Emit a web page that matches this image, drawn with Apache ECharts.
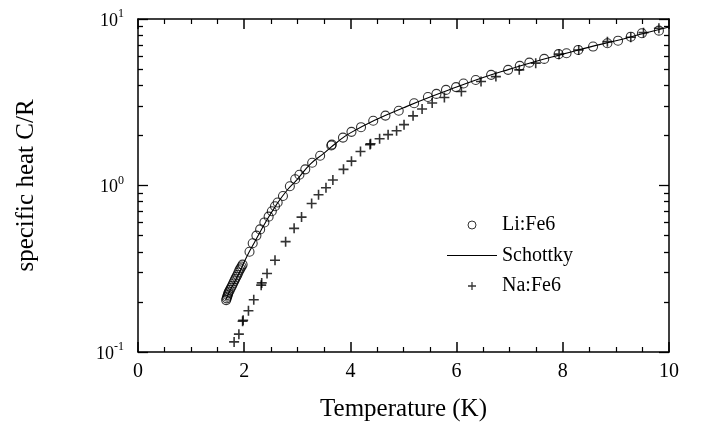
<!DOCTYPE html>
<html>
<head>
<meta charset="utf-8">
<script src="https://cdn.jsdelivr.net/npm/echarts@6/dist/echarts.min.js"></script>
<style>
  html, body { margin: 0; padding: 0; background: #fff; }
  #chart { width: 701px; height: 427px; }
</style>
</head>
<body>
<div id="chart"></div>
<script>
// Li:Fe6 measured points (T in K, C/R)
var liT = [1.66, 1.67, 1.68, 1.69, 1.70, 1.71, 1.73, 1.75, 1.77, 1.79, 1.81, 1.83, 1.85, 1.87, 1.89, 1.91, 1.93, 1.95, 1.97,
           2.10, 2.16, 2.23, 2.30, 2.38, 2.46, 2.52, 2.58, 2.63, 2.73, 2.86, 2.96, 3.04, 3.15, 3.28, 3.43, 3.64, 3.65,
           3.86, 4.02, 4.20, 4.43, 4.66, 4.91, 5.20, 5.46, 5.62, 5.80, 5.99, 6.13, 6.36, 6.65, 6.97, 7.19, 7.37, 7.65,
           7.92, 8.07, 8.29, 8.57, 8.84, 9.04, 9.28, 9.49, 9.81];
var liC = [0.205, 0.21, 0.215, 0.22, 0.225, 0.23, 0.236, 0.243, 0.25, 0.258, 0.266, 0.274, 0.282, 0.29, 0.30, 0.31, 0.318, 0.326, 0.335,
           0.40, 0.45, 0.50, 0.545, 0.60, 0.65, 0.70, 0.75, 0.79, 0.865, 0.99, 1.09, 1.16, 1.25, 1.37, 1.51, 1.74, 1.76,
           1.94, 2.10, 2.24, 2.45, 2.63, 2.81, 3.12, 3.40, 3.55, 3.75, 3.90, 4.10, 4.30, 4.62, 4.95, 5.23, 5.47, 5.76,
           6.15, 6.23, 6.52, 6.83, 7.15, 7.41, 7.83, 8.21, 8.51];

// Schottky curve
var schT = [1.65, 1.75, 1.85, 1.95, 2.05, 2.2, 2.4, 2.6, 2.8, 3.0, 3.25, 3.5, 3.75, 4.0, 4.5, 5.0, 5.5, 6.0, 6.5, 7.0, 7.5, 8.0, 8.5, 9.0, 9.5, 10.0];
var schC = [0.205, 0.24, 0.275, 0.32, 0.375, 0.46, 0.60, 0.76, 0.93, 1.09, 1.35, 1.56, 1.82, 2.07, 2.50, 2.93, 3.40, 3.90, 4.45, 5.0, 5.58, 6.15, 6.78, 7.40, 8.15, 8.95];

// Na:Fe6 measured points
var naT = [1.81, 1.90, 1.97, 1.98, 2.08, 2.18, 2.32, 2.33, 2.43, 2.58, 2.78, 2.94, 3.08, 3.27, 3.40, 3.54, 3.67, 3.87, 4.02, 4.19,
           4.37, 4.38, 4.55, 4.71, 4.87, 5.01, 5.18, 5.35, 5.54, 5.77, 6.09, 6.46, 6.74, 7.18, 7.49, 7.93, 8.30, 8.84, 9.28, 9.52, 9.81];
var naC = [0.115, 0.128, 0.153, 0.155, 0.177, 0.206, 0.252, 0.26, 0.296, 0.356, 0.46, 0.553, 0.646, 0.78, 0.88, 0.97, 1.08, 1.25, 1.40, 1.60,
           1.76, 1.78, 1.91, 2.02, 2.13, 2.32, 2.62, 2.88, 3.13, 3.38, 3.67, 4.21, 4.51, 4.95, 5.43, 6.15, 6.52, 7.31, 7.77, 8.28, 8.80];

var yMajor = [0.1, 1, 10];
var yMinor = [0.2, 0.3, 0.4, 0.5, 0.6, 0.7, 0.8, 0.9, 2, 3, 4, 5, 6, 7, 8, 9];

function pairs(xs, ys) {
  var out = [];
  for (var i = 0; i < xs.length; i++) out.push([xs[i], ys[i]]);
  return out;
}

var serif = "'Liberation Serif', 'Times New Roman', serif";
var black = '#000';
var plus = 'path://M42,0H58V42H100V58H58V100H42V58H0V42H42Z';

function xAx(pos, showLabel) {
  return {
    type: 'value', min: 0, max: 10, interval: 2, position: pos,
    axisLine: { show: true, onZero: false, lineStyle: { color: black, width: 1.5 } },
    axisTick: { show: true, inside: true, length: 10, lineStyle: { color: black, width: 1.5 } },
    minorTick: { show: true, splitNumber: 4, length: 5, lineStyle: { color: black, width: 1.2 } },
    axisLabel: { show: showLabel, color: black, fontSize: 20, fontFamily: serif, margin: 10 },
    splitLine: { show: false }
  };
}

function yAx(pos, ticks, len, showLabel, showLine) {
  return {
    type: 'log', logBase: 10, min: 0.1, max: 10, position: pos,
    axisLine: { show: showLine, onZero: false, lineStyle: { color: black, width: 1.5 } },
    axisTick: { show: true, inside: true, length: len, customValues: ticks, lineStyle: { color: black, width: 1.3 } },
    axisLabel: {
      show: showLabel, customValues: ticks, margin: 14,
      formatter: function (v) {
        var e = Math.round(Math.log10(v));
        return '{b|10}{s|' + e + '}';
      },
      rich: {
        b: { fontSize: 18, fontFamily: serif, color: black, lineHeight: 22, verticalAlign: 'bottom' },
        s: { fontSize: 12, fontFamily: serif, color: black, lineHeight: 12, verticalAlign: 'top' }
      }
    },
    splitLine: { show: false }
  };
}

var xBottom = xAx('bottom', true);
xBottom.name = 'Temperature (K)';
xBottom.nameLocation = 'middle';
xBottom.nameGap = 45;
xBottom.nameTextStyle = { fontSize: 25, fontFamily: serif, color: black };

var yLeft = yAx('left', yMajor, 10, true, true);
yLeft.name = 'specific heat C/R';
yLeft.nameLocation = 'middle';
yLeft.nameGap = 99;
yLeft.nameTextStyle = { fontSize: 25, fontFamily: serif, color: black };

var chart = echarts.init(document.getElementById('chart'), null, { renderer: 'canvas' });
chart.setOption({
  animation: false,
  backgroundColor: '#fff',
  grid: { left: 138, right: 32, top: 19, bottom: 74 },
  legend: {
    orient: 'vertical', left: 447, top: 215, padding: 0,
    itemWidth: 50, itemHeight: 8, itemGap: 10.5,
    textStyle: { fontSize: 20, fontFamily: serif, color: black, lineHeight: 20 },
    data: [
      { name: 'Li:Fe6', itemStyle: { borderWidth: 1 } },
      { name: 'Schottky', icon: 'path://M0,0H50V1.2H0Z' },
      'Na:Fe6'
    ]
  },
  xAxis: [xBottom, xAx('top', false)],
  yAxis: [
    yLeft,
    yAx('left', yMinor, 5, false, false),
    yAx('right', yMajor, 10, false, true),
    yAx('right', yMinor, 5, false, false)
  ],
  series: [
    {
      name: 'Li:Fe6', type: 'scatter', xAxisIndex: 0, yAxisIndex: 0,
      symbol: 'circle', symbolSize: 9,
      itemStyle: { color: 'rgba(0,0,0,0)', borderColor: black, borderWidth: 1.1 },
      data: pairs(liT, liC), z: 3
    },
    {
      name: 'Schottky', type: 'line', xAxisIndex: 0, yAxisIndex: 0,
      smooth: true, showSymbol: false, symbol: 'none',
      lineStyle: { color: black, width: 1.1 },
      itemStyle: { color: black },
      data: pairs(schT, schC), z: 2
    },
    {
      name: 'Na:Fe6', type: 'scatter', xAxisIndex: 0, yAxisIndex: 0,
      symbol: plus, symbolSize: 10,
      itemStyle: { color: black },
      data: pairs(naT, naC), z: 3
    }
  ]
});
</script>
</body>
</html>
